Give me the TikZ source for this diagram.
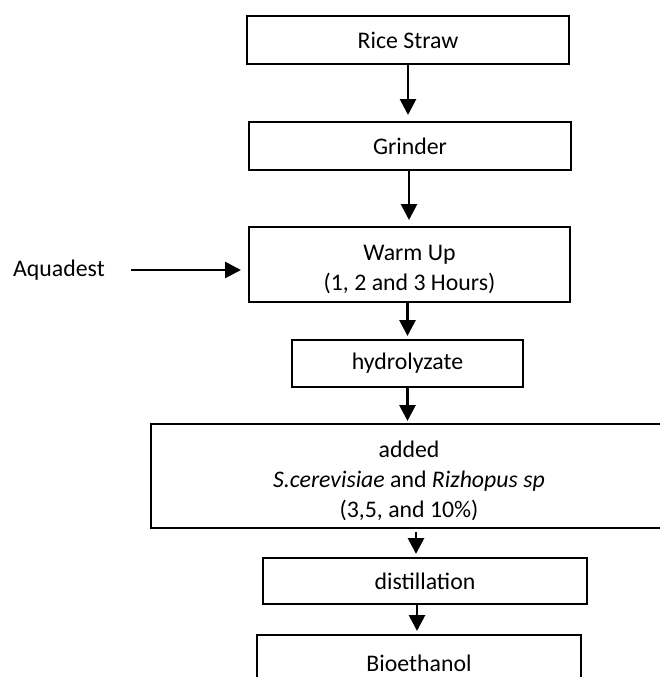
\documentclass[tikz,border=0pt]{standalone}
\usepackage{fontspec}
\setmainfont{Carlito}
\usetikzlibrary{arrows.meta,calc}
\begin{document}
\begin{tikzpicture}[x=1pt,y=-1pt,
  box/.style={draw=black,line width=2pt,rectangle,inner sep=0pt,align=center},
  arr/.style={line width=2.8pt,-{Triangle[length=16pt,width=16pt]},shorten >=3pt},
  lbl/.style={inner sep=0pt,align=center}]
\path[use as bounding box,clip] (0,0) rectangle (660,677);
\fontsize{23.8pt}{30pt}\selectfont
\node[box,minimum width=322pt,minimum height=48pt] (rice) at (408,40) {Rice Straw};
\node[box,minimum width=322pt,minimum height=48pt] (grind) at (410,146) {Grinder};
\node[box,minimum width=321pt,minimum height=75pt,
  label={[lbl,yshift=-5.5pt]center:{Warm Up\\(1, 2 and 3 Hours)}}] (warm) at (409.5,264.5) {};
\node[lbl,anchor=west] (aq) at (13,270) {Aquadest};
\node[box,minimum width=231pt,minimum height=47pt] (hydro) at (407.5,363.5) {hydrolyzate};
\node[box,minimum width=512pt,minimum height=104pt] (big) at (407,476) {};
\begin{scope}
\clip (151,424) rectangle (662,519);
\node[lbl] (bigtext) at (409,481) {added\\\textit{S.cerevisiae} and \textit{Rizhopus sp}\\(3,5, and 10\%)};
\end{scope}
\node[box,minimum width=324pt,minimum height=46pt] (dist) at (425,581) {distillation};
\node[box,minimum width=324pt,minimum height=56pt] (bio) at (419,663) {Bioethanol};
\draw[arr,shorten >=6pt] (rice.south) -- (grind.north -| rice.south);
\draw[arr,shorten >=6pt] ([xshift=-1pt]grind.south) -- ([xshift=-1pt]warm.north -| grind.south);
\draw[arr] ([xshift=-2pt]warm.south) -- ([xshift=-2pt]hydro.north -| warm.south);
\draw[arr,shorten >=2pt] (hydro.south) -- (big.north -| hydro.south);
\draw[arr] ([xshift=9pt,yshift=-3pt]big.south) -- (dist.north -| 416,0);
\draw[arr] ([xshift=-8pt]dist.south) -- (bio.north -| 417,0);
\draw[arr,shorten >=7pt] ([xshift=26pt]aq.east) -- (warm.west |- aq.east);
\end{tikzpicture}
\end{document}
